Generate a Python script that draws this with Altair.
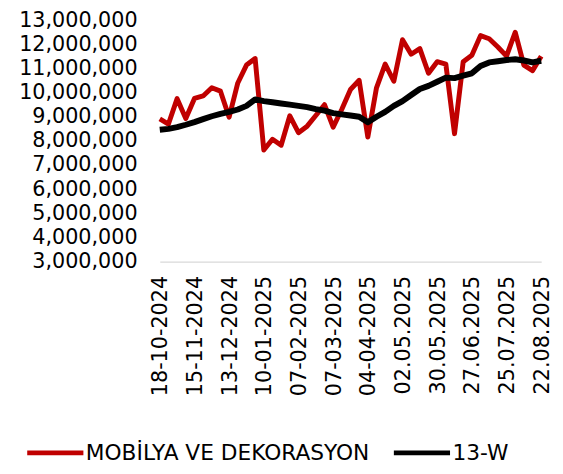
import altair as alt
import pandas as pd

# Weekly sales (MOBİLYA VE DEKORASYON) and 13-week average
red_values = [8.91, 8.70, 9.75, 8.93, 9.76, 9.86, 10.20, 10.06, 8.98, 10.40,
              11.14, 11.41, 7.62, 8.07, 7.82, 9.04, 8.34, 8.61, 9.05, 9.50,
              8.57, 9.31, 10.13, 10.51, 8.16, 10.20, 11.18, 10.47, 12.19, 11.59,
              11.82, 10.80, 11.28, 11.18, 8.30, 11.28, 11.55, 12.36, 12.23, 11.89,
              11.51, 12.50, 11.14, 10.91, 11.51]
black_values = [8.46, 8.50, 8.57, 8.67, 8.78, 8.90, 9.02, 9.12, 9.20, 9.30,
                9.45, 9.72, 9.65, 9.60, 9.55, 9.50, 9.45, 9.40, 9.32, 9.25,
                9.15, 9.10, 9.05, 9.00, 8.77, 9.00, 9.20, 9.45, 9.65, 9.90,
                10.15, 10.28, 10.45, 10.62, 10.60, 10.70, 10.80, 11.10, 11.25, 11.30,
                11.35, 11.38, 11.33, 11.25, 11.32]

tick_labels = ["18-10-2024", "15-11-2024", "13-12-2024", "10-01-2025", "07-02-2025",
               "07-03-2025", "04-04-2025", "02.05.2025", "30.05.2025", "27.06.2025",
               "25.07.2025", "22.08.2025"]

series_names = ["MOBİLYA VE DEKORASYON", "13-W"]
series_colors = ["#c00000", "#000000"]

n = len(red_values)
rows = []
for i in range(n):
    rows.append({"idx": i, "series": series_names[0], "value": red_values[i] * 1e6})
    rows.append({"idx": i, "series": series_names[1], "value": black_values[i] * 1e6})
df = pd.DataFrame(rows)

FONT = "DejaVu Sans"
step = (n - 1) // (len(tick_labels) - 1)
label_js = "[" + ",".join("'" + t + "'" for t in tick_labels) + "]"

x = alt.X("idx:Q", title=None,
          scale=alt.Scale(domain=[0, n - 1], nice=False, zero=False),
          axis=alt.Axis(values=list(range(0, n, step)),
                        labelExpr=label_js + "[round(datum.value / " + str(step) + ")]",
                        labelAngle=-90, labelFontSize=21, labelFont=FONT,
                        labelColor="#000000", ticks=False, grid=False,
                        domainColor="#d9d9d9", domainWidth=1.5, labelPadding=14,
                        labelOverlap=False, labelFlush=False, labelOffset=1))
y = alt.Y("value:Q", title=None,
          scale=alt.Scale(domain=[3e6, 13e6], nice=False, zero=False),
          axis=alt.Axis(values=[v * 1e6 for v in range(3, 14)], format=",d",
                        labelFontSize=21, labelFont=FONT, labelColor="#000000",
                        ticks=False, domain=False, grid=False, labelPadding=23))
color = alt.Color("series:N",
                  scale=alt.Scale(domain=series_names, range=series_colors),
                  legend=alt.Legend(title=None, orient="none", direction="horizontal",
                                    legendX=-137, legendY=408, symbolType="stroke",
                                    symbolSize=3249, symbolStrokeWidth=5,
                                    labelFontSize=22, labelFont=FONT, labelColor="#000000",
                                    labelOffset=0, columnPadding=14, padding=0,
                                    labelLimit=0))

base = alt.Chart(df)
red = base.transform_filter(alt.datum.series == series_names[0]).mark_line(
    strokeWidth=5, strokeJoin="round").encode(x=x, y=y, color=color)
black = base.transform_filter(alt.datum.series == series_names[1]).mark_line(
    strokeWidth=6, strokeJoin="round").encode(x=x, y=y, color=color)

chart = alt.layer(red, black).properties(
    width=387, height=245,
    autosize=alt.AutoSizeParams(type="none"),
    padding={"left": 154, "top": 9, "right": 14, "bottom": 204},
).configure_view(stroke=None)

chart.save("out.html", embed_options={"renderer": "svg", "actions": False})
